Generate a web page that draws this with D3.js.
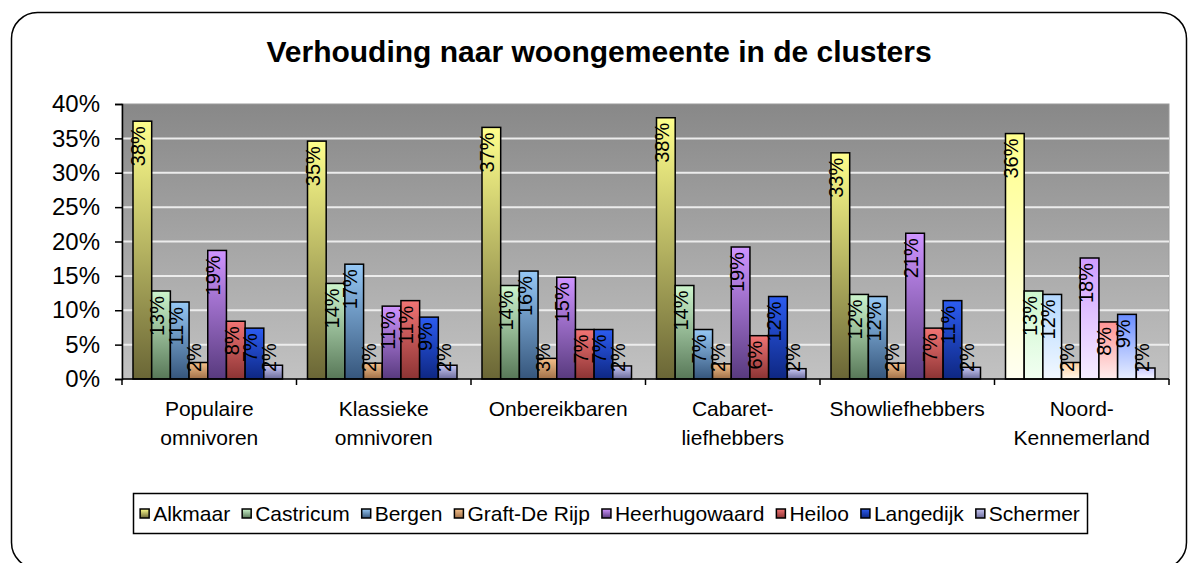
<!DOCTYPE html>
<html>
<head>
<meta charset="utf-8">
<script src="https://cdn.jsdelivr.net/npm/d3@7"></script>
<style>
  body { margin: 0; background: #fff; }
  svg { display: block; font-family: "Liberation Sans", Arial, sans-serif; }
</style>
</head>
<body>
<div id="chart"></div>
<script>
// Data (percent)
const clusters = [
  ["Populaire", "omnivoren"],
  ["Klassieke", "omnivoren"],
  ["Onbereikbaren"],
  ["Cabaret-", "liefhebbers"],
  ["Showliefhebbers"],
  ["Noord-", "Kennemerland"]
];
const towns = ["Alkmaar", "Castricum", "Bergen", "Graft-De Rijp", "Heerhugowaard", "Heiloo", "Langedijk", "Schermer"];

const alkmaar       = [37.5, 34.6, 36.6, 38.0, 32.9, 35.7];
const castricum     = [12.8, 13.9, 13.6, 13.6, 12.3, 12.8];
const bergen        = [11.2, 16.7, 15.7, 7.2, 12.0, 12.3];
const graftDeRijp   = [2.4, 2.3, 3.0, 2.2, 2.3, 2.4];
const heerhugowaard = [18.7, 10.6, 14.8, 19.2, 21.2, 17.6];
const heiloo        = [8.4, 11.4, 7.2, 6.3, 7.4, 8.3];
const langedijk     = [7.4, 9.0, 7.2, 12.0, 11.4, 9.4];
const schermer      = [2.0, 2.0, 1.9, 1.5, 1.7, 1.6];

const yTicks = [0, 5, 10, 15, 20, 25, 30, 35, 40];

const series = [alkmaar, castricum, bergen, graftDeRijp, heerhugowaard, heiloo, langedijk, schermer];

// colours: [top, bottom] and pale version for the last cluster
const colors = [
  ["#ffff8c", "#6a6636"], ["#cdf5cd", "#587858"], ["#96c8f5", "#36567c"], ["#f5c08a", "#a07048"],
  ["#cf94ff", "#583a7e"], ["#f27474", "#8c3434"], ["#2c5cf0", "#0e2782"], ["#c8c8f4", "#6c6c9c"]
];
const paleColors = [
  ["#ffff8c", "#fffff2"], ["#cdf7cd", "#f2fff2"], ["#b4d8ff", "#f2f8ff"], ["#ffcf9c", "#fff6ec"],
  ["#cf9cff", "#f6eeff"], ["#ff9494", "#ffeeee"], ["#6a8cff", "#e8eeff"], ["#cacaff", "#f6f6ff"]
];

const W = 1190, H = 563;
const plot = { left: 122, right: 1169, top: 104, bottom: 379 };

const svg = d3.select("#chart").append("svg")
  .attr("width", W)
  .attr("height", H);

const defs = svg.append("defs");

function addGradient(id, top, bottom) {
  const g = defs.append("linearGradient")
    .attr("id", id)
    .attr("x1", 0).attr("y1", 0).attr("x2", 0).attr("y2", 1);
  g.append("stop").attr("offset", "0%").attr("stop-color", top);
  g.append("stop").attr("offset", "100%").attr("stop-color", bottom);
}
colors.forEach((c, i) => addGradient("bar" + i, c[0], c[1]));
paleColors.forEach((c, i) => addGradient("pale" + i, c[0], c[1]));
addGradient("plotbg", "#888888", "#c2c2c2");

// Chart border
svg.append("rect")
  .attr("x", 11.5).attr("y", 12.5)
  .attr("width", 1175).attr("height", 556)
  .attr("rx", 26)
  .attr("fill", "none")
  .attr("stroke", "#000")
  .attr("stroke-width", 1.5);

// Title
svg.append("text")
  .attr("x", 599).attr("y", 62)
  .attr("text-anchor", "middle")
  .attr("font-size", 30)
  .attr("font-weight", "bold")
  .text("Verhouding naar woongemeente in de clusters");

// Scales
const x0 = d3.scaleBand()
  .domain(d3.range(clusters.length))
  .range([plot.left, plot.right]);
const x1 = d3.scaleBand()
  .domain(d3.range(towns.length))
  .range([11, x0.bandwidth() - 14]);
const y = d3.scaleLinear()
  .domain([0, 40])
  .range([plot.bottom, plot.top]);

// Plot area
svg.append("rect")
  .attr("x", plot.left).attr("y", plot.top)
  .attr("width", plot.right - plot.left).attr("height", plot.bottom - plot.top)
  .attr("fill", "url(#plotbg)")
  .attr("stroke", "#9a9a9a");

// Gridlines
svg.append("g")
  .selectAll("line")
  .data(yTicks.filter(t => t > 0 && t < 40))
  .enter().append("line")
  .attr("x1", plot.left).attr("x2", plot.right)
  .attr("y1", d => y(d)).attr("y2", d => y(d))
  .attr("stroke", "#ececec")
  .attr("stroke-width", 2);

// Bars
const groups = svg.append("g")
  .selectAll("g")
  .data(clusters.map((c, ci) => ci))
  .enter().append("g")
  .attr("transform", ci => `translate(${x0(ci)},0)`);

groups.selectAll("rect")
  .data(ci => series.map((s, si) => ({ ci, si, v: s[ci] })))
  .enter().append("rect")
  .attr("x", d => x1(d.si))
  .attr("y", d => y(d.v))
  .attr("width", x1.bandwidth())
  .attr("height", d => y(0) - y(d.v))
  .attr("fill", d => d.ci === clusters.length - 1 ? `url(#pale${d.si})` : `url(#bar${d.si})`)
  .attr("stroke", "#000")
  .attr("stroke-width", 1.5);

// Data labels (rotated)
groups.selectAll("text")
  .data(ci => series.map((s, si) => ({ ci, si, v: s[ci] })))
  .enter().append("text")
  .attr("font-size", 20)
  .attr("text-anchor", "end")
  .attr("dominant-baseline", "central")
  .text(d => Math.round(d.v) + "%")
  .each(function(d) {
    const len = this.getComputedTextLength();
    const yEnd = Math.min(y(d.v) + 5, plot.bottom - 7 - len);
    const cx = x1(d.si) + x1.bandwidth() / 2 - 4;
    d3.select(this).attr("transform", `translate(${cx},${yEnd}) rotate(-90)`);
  });

// Y axis
const yAxis = svg.append("g")
  .attr("transform", `translate(${plot.left},0)`)
  .call(d3.axisLeft(y).tickValues(yTicks).tickFormat(d => d + "%").tickSize(7).tickPadding(15));
yAxis.select(".domain").attr("stroke", "#000").attr("stroke-width", 1.5);
yAxis.selectAll(".tick line").attr("stroke", "#000").attr("stroke-width", 1.5);
yAxis.selectAll(".tick text")
  .attr("font-size", 24)
  .attr("font-family", "Liberation Sans, Arial, sans-serif")
  .attr("fill", "#000");

// X axis
const xAxis = svg.append("g")
  .attr("transform", `translate(0,${plot.bottom})`);
xAxis.append("line")
  .attr("x1", plot.left).attr("x2", plot.right)
  .attr("stroke", "#000").attr("stroke-width", 1.5);
xAxis.selectAll(".xtick")
  .data(d3.range(clusters.length + 1))
  .enter().append("line")
  .attr("x1", i => plot.left + i * x0.step())
  .attr("x2", i => plot.left + i * x0.step())
  .attr("y1", 0).attr("y2", 6)
  .attr("stroke", "#000").attr("stroke-width", 1.5);

const xLabels = xAxis.selectAll(".xlabel")
  .data(clusters)
  .enter().append("text")
  .attr("x", (d, i) => x0(i) + x0.bandwidth() / 2)
  .attr("text-anchor", "middle")
  .attr("font-size", 21);
xLabels.selectAll("tspan")
  .data(d => d)
  .enter().append("tspan")
  .attr("x", function() { return d3.select(this.parentNode).attr("x"); })
  .attr("y", (d, i) => 37 + i * 29)
  .text(d => d);

// Legend
const legend = svg.append("g");
legend.append("rect")
  .attr("x", 133.5).attr("y", 493.5)
  .attr("width", 954).attr("height", 40)
  .attr("fill", "#fff")
  .attr("stroke", "#000")
  .attr("stroke-width", 1.5);

const items = legend.selectAll(".item")
  .data(towns)
  .enter().append("g");
items.append("rect")
  .attr("width", 9).attr("height", 9)
  .attr("y", 509)
  .attr("stroke", "#000")
  .attr("stroke-width", 1.5);
items.append("text")
  .attr("x", 13)
  .attr("y", 521)
  .attr("font-size", 21)
  .text(d => d);

let widths = [];
items.each(function() {
  widths.push(13 + this.querySelector("text").getComputedTextLength());
});
const gap = 12;
const total = d3.sum(widths) + gap * (widths.length - 1);
let cx = 133 + (954 - total) / 2;
items.each(function(d, i) {
  d3.select(this).attr("transform", `translate(${cx},0)`);
  d3.select(this).select("rect").attr("fill", `url(#bar${i})`);
  cx += widths[i] + gap;
});
</script>
</body>
</html>
